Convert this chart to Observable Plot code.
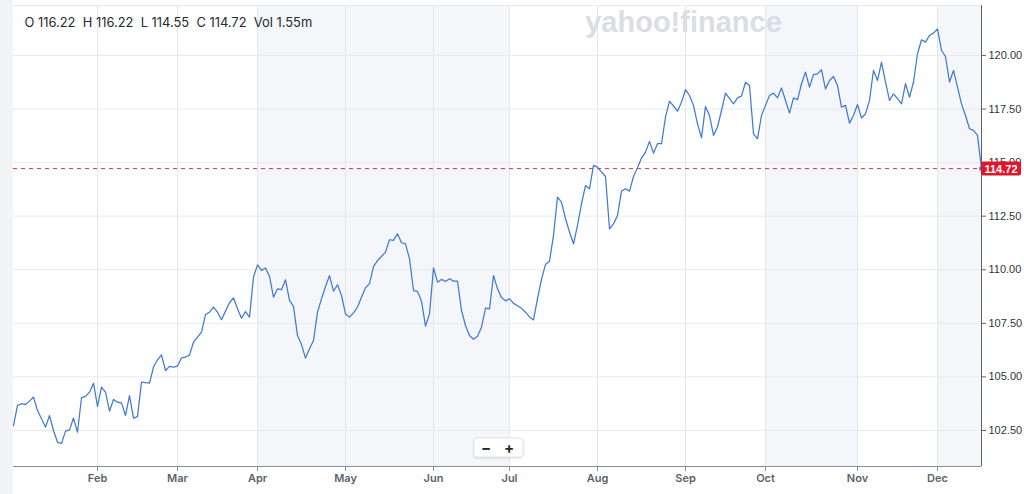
<!DOCTYPE html>
<html><head><meta charset="utf-8">
<script src="https://cdn.jsdelivr.net/npm/d3@7"></script>
<script src="https://cdn.jsdelivr.net/npm/@observablehq/plot@0.6"></script>
<style>html,body{margin:0;padding:0;background:#fff;overflow:hidden}#chart svg{display:block}</style>
</head><body><div id="chart"></div>
<script>
// Trading-day closes (2024, index 0 = first session of Jan)
const close = [
102.73,103.67,103.75,103.71,103.87,104.06,103.43,103.05,102.66,103.20,
102.50,101.95,101.90,102.47,102.53,103.08,102.42,104.03,104.09,104.29,
104.71,103.62,104.52,104.29,103.40,103.95,103.82,103.79,103.20,104.13,
103.08,103.15,104.76,104.73,104.71,105.46,105.80,106.03,105.30,105.49,
105.46,105.50,105.89,105.92,106.03,106.62,106.86,107.09,107.91,108.02,
108.26,108.02,107.67,108.07,108.46,108.69,108.18,107.74,108.05,107.79,
109.66,110.23,109.97,110.08,109.69,108.72,109.11,109.07,109.53,108.57,
108.29,106.93,106.51,105.88,106.31,106.70,108.02,108.64,109.22,109.73,
109.00,109.30,108.80,107.94,107.79,107.99,108.26,108.72,109.16,109.35,
110.15,110.43,110.62,110.82,111.40,111.37,111.68,111.26,111.21,110.51,
109.03,108.99,108.54,107.37,107.94,110.09,109.42,109.55,109.45,109.58,
109.47,109.47,108.10,107.40,106.93,106.76,106.90,107.32,108.21,108.18,
109.73,109.11,108.70,108.55,108.65,108.43,108.32,108.20,108.02,107.80,
107.66,108.65,109.55,110.25,110.40,111.60,113.39,113.16,112.38,111.76,
111.21,112.07,113.08,113.93,113.78,114.87,114.79,114.56,114.35,111.91,
112.14,112.53,113.67,113.78,113.67,114.35,114.76,115.21,115.49,115.99,
115.44,115.88,115.88,117.12,117.87,117.64,117.40,117.82,118.40,118.13,
117.67,116.81,116.16,117.62,117.20,116.27,116.66,117.43,118.24,117.98,
117.74,118.02,118.10,118.75,118.60,116.34,116.11,117.20,117.67,118.13,
118.24,118.02,118.48,117.90,117.31,118.02,117.93,118.68,119.22,118.52,
119.11,119.14,119.33,118.44,118.83,119.02,118.60,117.59,117.67,116.84,
117.20,117.71,117.08,117.28,117.90,119.30,118.83,119.69,118.76,117.90,
118.21,117.98,117.74,118.68,118.05,118.76,120.08,120.73,120.62,120.93,
121.04,121.24,120.23,119.95,118.76,119.30,118.52,117.74,117.20,116.58,
116.50,116.27,114.72
];
const monthLabels = ["Feb","Mar","Apr","May","Jun","Jul","Aug","Sep","Oct","Nov","Dec"];
const monthTicks  = [21, 41, 61, 83, 105, 124, 146, 168, 188, 211, 231];
const yTicks = [102.5, 105, 107.5, 110, 112.5, 115, 117.5, 120];
const bandStarts = [61, 188, 231];
const bandEnds   = [124, 211, 242];
const legendKeys = ["O", "H", "L", "C", "Vol"];
const legendVals = ["116.22", "116.22", "114.55", "114.72", "1.55m"];
const watermark = "yahoo!finance";

const bands = bandStarts.map((s, i) => ({start: s, end: bandEnds[i]}));
const lastIdx = close.length - 1;
const lastVal = close[lastIdx];
const yDomain = [100.82, 122.33];
const labelOf = new Map(monthTicks.map((t, i) => [t, monthLabels[i]]));
const legendText = legendKeys.map((k, i) => k + " " + legendVals[i]).join("\u00a0\u00a0");
const font = "Inter, 'Liberation Sans', sans-serif";
const numFont = "'Liberation Sans', Arial, sans-serif";

const chart = Plot.plot({
  width: 1024, height: 494,
  marginLeft: 13, marginRight: 43, marginTop: 5, marginBottom: 28,
  style: {background: "white", fontFamily: font, overflow: "visible"},
  x: {domain: [0, lastIdx], axis: null},
  y: {domain: yDomain, axis: null},
  marks: [
    Plot.rect(bands, {x1: "start", x2: "end", fill: "#f4f6fa"}),
    Plot.gridX(monthTicks, {stroke: "#e4e6ea", strokeOpacity: 1}),
    Plot.gridY(yTicks, {stroke: "#e8eaed", strokeOpacity: 1}),
    Plot.ruleY([yDomain[1]], {stroke: "#e6e8eb"}),
    Plot.ruleY([lastVal], {stroke: "#e0313c", strokeWidth: 1, strokeDasharray: "4,4"}),
    Plot.line(close, {x: (d, i) => i, y: d => d, stroke: "#3f7bd6", strokeWidth: 1.25}),
    Plot.dot([lastVal], {x: () => lastIdx, y: d => d, r: 2.5, fill: "#4a86e0", stroke: "none"}),
    Plot.axisX(monthTicks, {anchor: "bottom", tickFormat: d => labelOf.get(d), tickSize: 5, tickPadding: 3,
      fontSize: 11, fontWeight: 600, fill: "#5b636a", stroke: "#8a8f96", label: null}),
    Plot.ruleY([yDomain[0]], {stroke: "#8a8f96"}),
    Plot.axisY(yTicks, {anchor: "right", tickFormat: d => d.toFixed(2), tickSize: 4, tickPadding: 3,
      fontSize: 11, fontFamily: numFont, fill: "#2f353b", stroke: "#5f6368", label: null}),
    Plot.ruleX([lastIdx], {stroke: "#5f6368"}),
    Plot.text([legendText], {frameAnchor: "top-left", dx: 11, dy: 12, text: d => d, fontSize: 12.9,
      fill: "#232a31", textAnchor: "start"}),
    Plot.text([watermark], {frameAnchor: "top", dx: 186, dy: 6, text: d => d, fontSize: 29,
      fontWeight: 900, fill: "#dadde2", textAnchor: "middle", fontFamily: numFont})
  ]
});

const svg = d3.select(chart);
// left side strip
svg.insert("rect", ":first-child").attr("x", 0).attr("y", 0).attr("width", 13).attr("height", 494).attr("fill", "#f3f4f6");
// last price badge
const ys = chart.scale("y");
const yPix = ys.apply(lastVal);
const badge = svg.append("g");
badge.append("rect").attr("x", 981).attr("y", yPix - 6.5).attr("width", 40).attr("height", 14).attr("rx", 2).attr("fill", "#e0162b");
badge.append("text").attr("x", 1001).attr("y", yPix + 0.5).attr("dy", "0.36em").attr("text-anchor", "middle")
  .attr("font-size", 11).attr("font-weight", 700).attr("fill", "white").attr("font-family", numFont).text(lastVal.toFixed(2));
// zoom buttons
const zb = svg.append("g");
zb.append("rect").attr("x", 474).attr("y", 438).attr("width", 49).attr("height", 19).attr("rx", 3)
  .attr("fill", "white").attr("stroke", "#e2e4e8").style("filter", "drop-shadow(0 1px 1px rgba(0,0,0,0.12))");
zb.append("text").attr("x", 486).attr("y", 447.5).attr("dy", "0.36em").attr("text-anchor", "middle")
  .attr("font-size", 15).attr("font-weight", 700).attr("fill", "#232a31").attr("font-family", font).text("\u2212");
zb.append("text").attr("x", 509).attr("y", 447.5).attr("dy", "0.36em").attr("text-anchor", "middle")
  .attr("font-size", 15).attr("font-weight", 700).attr("fill", "#232a31").attr("font-family", font).text("+");

document.getElementById("chart").append(chart);
</script>
</body></html>
